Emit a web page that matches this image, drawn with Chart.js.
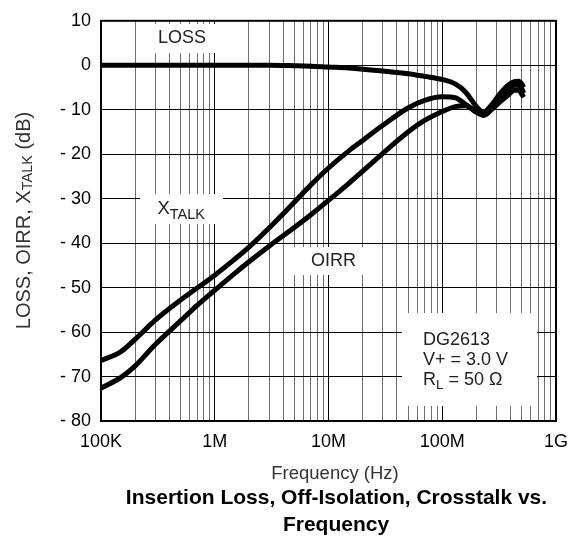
<!DOCTYPE html>
<html>
<head>
<meta charset="utf-8">
<script src="https://cdn.jsdelivr.net/npm/chart.js@4.4.1/dist/chart.umd.min.js"></script>
<style>
    html, body { margin: 0; padding: 0; background: #fff; }
    #wrap { width: 582px; height: 539px; }
</style>
</head>
<body>
<div id="wrap"><canvas id="chart" width="582" height="539"></canvas></div>
<script>

const freqHz = [
    1e5, 1.5e5, 2e5, 3e5, 5e5, 7e5, 1e6, 1.5e6, 2e6, 3e6,
    5e6, 7e6, 1e7, 1.5e7, 2e7, 3e7, 5e7, 7e7, 1e8, 1.3e8,
    1.6e8, 2e8, 2.3e8, 2.7e8, 3.2e8, 3.8e8, 4.3e8, 4.7e8, 5e8, 5.2e8
];

const lossDb = [
    0, 0, 0, 0, 0, 0, 0, 0, 0, 0,
    -0.1, -0.2, -0.4, -0.6, -0.9, -1.3, -1.9, -2.5, -3.2, -4.2,
    -6, -9.3, -10.6, -9, -6.5, -4.5, -3.7, -3.6, -4.2, -5
];

const xtalkDb = [
    -66.4, -64.4, -61.6, -57.3, -52.8, -50.1, -47.2, -43.6, -40.9, -36.6,
    -30.8, -26.9, -23.1, -19.3, -16.9, -13.5, -9.6, -7.9, -7.1, -7.3,
    -8.8, -10.4, -11, -9.5, -7.5, -5.5, -4.5, -4.5, -5.3, -6.3
];

const oirrDb = [
    -72.6, -70.2, -67.6, -62.8, -57.5, -54, -50.6, -46.8, -44.2, -40.7,
    -36.5, -33.6, -30.4, -26.6, -23.8, -19.8, -15, -12.4, -10.4, -9.3,
    -9.1, -10.6, -11.3, -10, -8.3, -6.7, -5.6, -5.6, -6.5, -7.2
];

const xTickValues = [1e5, 1e6, 1e7, 1e8, 1e9];
const xTickLabels = ["100K", "1M", "10M", "100M", "1G"];

const yTickValues = [10, 0, -10, -20, -30, -40, -50, -60, -70, -80];
const yTickLabels = ["10", "0", "- 10", "- 20", "- 30", "- 40", "- 50", "- 60", "- 70", "- 80"];

const FONT = "'Liberation Sans', Arial, sans-serif";

function points(ys) {
    return freqHz.map((f, i) => ({ x: f, y: ys[i] }));
}

function isDecade(v) {
    return xTickValues.some(d => Math.abs(d - v) < d * 1e-6);
}

// text with an optional subscript part
function drawParts(ctx, parts, x, y) {
    let cx = x;
    parts.forEach(p => {
        ctx.font = p.font;
        ctx.fillText(p.text, cx, y + (p.dy || 0));
        cx += ctx.measureText(p.text).width;
    });
    return cx;
}

function partsWidth(ctx, parts) {
    let w = 0;
    parts.forEach(p => {
        ctx.font = p.font;
        w += ctx.measureText(p.text).width;
    });
    return w;
}

const labelPlugin = {
    id: "labels",
    beforeDatasetsDraw(chart) {
        const ctx = chart.ctx;
        ctx.save();

        // white boxes behind the notes
        ctx.fillStyle = "#fff";
        ctx.fillRect(140, 24, 106, 29);
        ctx.fillRect(140, 194, 83, 30);
        ctx.fillRect(293, 247, 72, 28);
        ctx.fillRect(402, 313, 135, 93);

        ctx.fillStyle = "#222";
        ctx.textBaseline = "alphabetic";
        ctx.textAlign = "left";

        ctx.font = "18px " + FONT;
        ctx.fillText("LOSS", 158, 42.5);
        ctx.fillText("OIRR", 311, 266);

        drawParts(ctx, [
            { text: "X", font: "18.5px " + FONT },
            { text: "TALK", font: "14.5px " + FONT, dy: 5 }
        ], 157.5, 213.5);

        ctx.font = "18px " + FONT;
        ctx.fillText("DG2613", 423, 345);
        ctx.fillText("V+ = 3.0 V", 423, 365);
        drawParts(ctx, [
            { text: "R", font: "18px " + FONT },
            { text: "L", font: "13.5px " + FONT, dy: 4 },
            { text: " = 50 \u03A9", font: "18px " + FONT }
        ], 423, 385);

        ctx.restore();
    },
    afterDatasetsDraw(chart) {
        const ctx = chart.ctx;
        const a = chart.chartArea;
        ctx.save();
        ctx.strokeStyle = "#000";
        ctx.lineWidth = 2;
        ctx.strokeRect(a.left, a.top, a.right - a.left, a.bottom - a.top);
        ctx.restore();
    },
    afterDraw(chart) {
        const ctx = chart.ctx;
        ctx.save();
        ctx.fillStyle = "#333";
        ctx.textAlign = "center";
        ctx.textBaseline = "alphabetic";

        ctx.font = "18.5px " + FONT;
        ctx.fillText("Frequency (Hz)", 335, 479);

        ctx.fillStyle = "#000";
        ctx.font = "bold 21px " + FONT;
        ctx.fillText("Insertion Loss, Off-Isolation, Crosstalk vs.", 336.5, 504);
        ctx.fillText("Frequency", 336, 530.5);

        // y axis title, rotated, with subscript
        const parts = [
            { text: "LOSS, OIRR, X", font: "20px " + FONT },
            { text: "TALK", font: "14.5px " + FONT, dy: 4 },
            { text: " (dB)", font: "20px " + FONT }
        ];
        ctx.translate(24, 220.5);
        ctx.rotate(-Math.PI / 2);
        ctx.fillStyle = "#333";
        ctx.textAlign = "left";
        ctx.textBaseline = "middle";
        const w = partsWidth(ctx, parts);
        drawParts(ctx, parts, -w / 2, 0);

        ctx.restore();
    }
};

const line = {
    borderColor: "#000",
    borderWidth: 5,
    pointRadius: 0,
    fill: false,
    cubicInterpolationMode: "monotone"
};

new Chart(document.getElementById("chart"), {
    type: "line",
    data: {
        datasets: [
            Object.assign({ label: "LOSS", data: points(lossDb) }, line),
            Object.assign({ label: "XTALK", data: points(xtalkDb) }, line),
            Object.assign({ label: "OIRR", data: points(oirrDb) }, line)
        ]
    },
    options: {
        responsive: false,
        animation: false,
        devicePixelRatio: 1,
        layout: {
            padding: { left: 0, right: 26, top: 14, bottom: 0 }
        },
        plugins: {
            legend: { display: false },
            tooltip: { enabled: false }
        },
        scales: {
            x: {
                type: "logarithmic",
                min: 1e5,
                max: 1e9,
                afterBuildTicks(scale) {
                    const ticks = [];
                    for (let d = 1e5; d < 1e9; d *= 10) {
                        for (let m = 1; m < 10; m++) {
                            ticks.push({ value: d * m });
                        }
                    }
                    ticks.push({ value: 1e9 });
                    scale.ticks = ticks;
                },
                afterFit(scale) {
                    scale.height = 118;
                },
                border: { display: false },
                grid: {
                    drawTicks: false,
                    lineWidth: 1,
                    color: c => (c.tick && isDecade(c.tick.value)) ? "#000" : "#6e6e6e"
                },
                ticks: {
                    autoSkip: false,
                    maxRotation: 0,
                    padding: 10,
                    color: "#000",
                    font: { family: FONT, size: 18 },
                    callback: v => {
                        const i = xTickValues.findIndex(d => Math.abs(d - v) < d * 1e-6);
                        return i >= 0 ? xTickLabels[i] : "";
                    }
                }
            },
            y: {
                min: -80,
                max: 10,
                afterBuildTicks(scale) {
                    scale.ticks = yTickValues.map(v => ({ value: v }));
                },
                afterFit(scale) {
                    scale.width = 101;
                },
                border: { display: false },
                grid: {
                    drawTicks: false,
                    lineWidth: 1,
                    color: "#000"
                },
                ticks: {
                    padding: 10,
                    color: "#000",
                    font: { family: FONT, size: 18 },
                    callback: v => {
                        const i = yTickValues.indexOf(v);
                        return i >= 0 ? yTickLabels[i] : "";
                    }
                }
            }
        }
    },
    plugins: [labelPlugin]
});
</script>
</body>
</html>
